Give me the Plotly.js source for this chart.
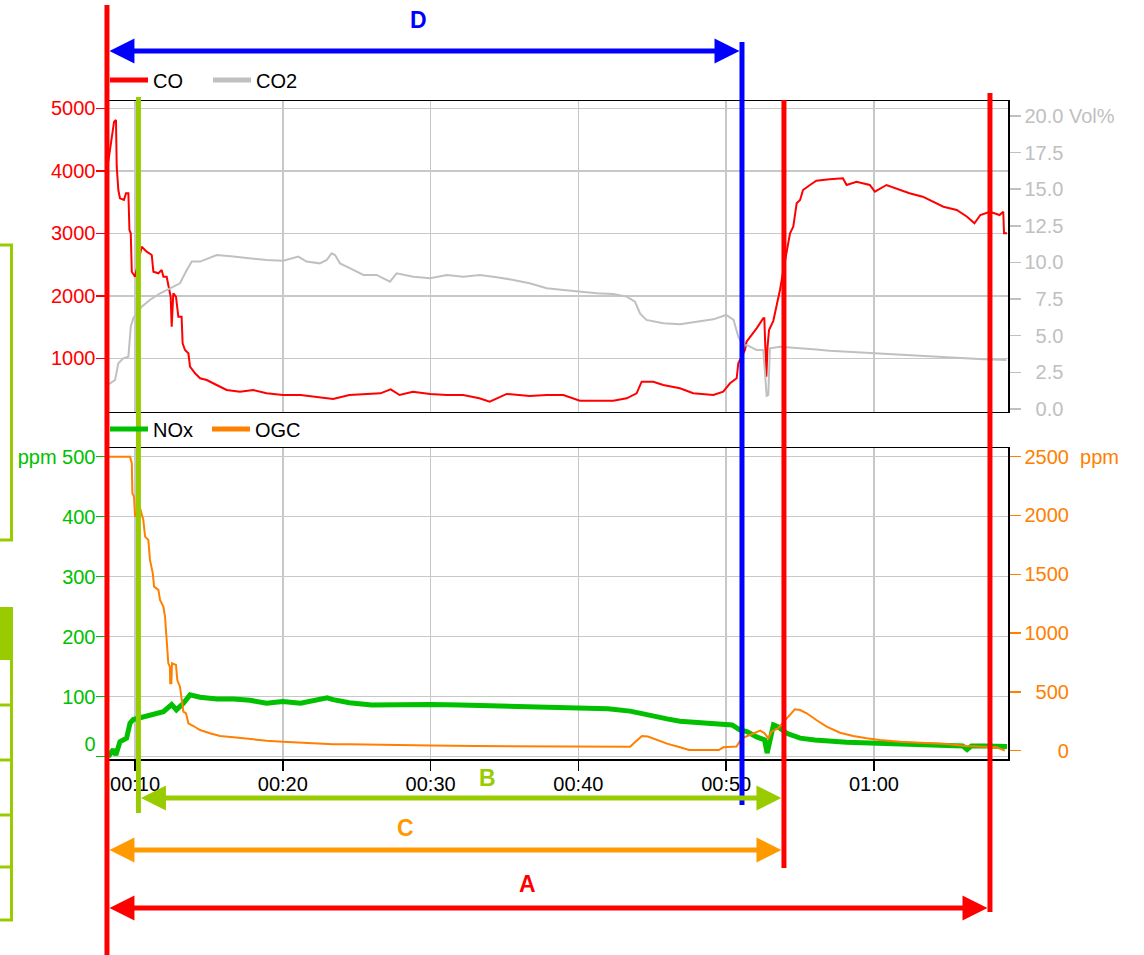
<!DOCTYPE html>
<html>
<head>
<meta charset="utf-8">
<script src="https://cdn.plot.ly/plotly-3.0.1.min.js"></script>
<style>html,body{margin:0;padding:0;background:#fff;}#chart{width:1144px;height:955px;}</style>
</head>
<body>
<div id="chart"></div>
<script>
// ---------- DATA (time in minutes) ----------
const coTime = [8.19,8.42,8.58,8.71,8.76,8.87,8.98,9.25,9.39,9.55,9.62,9.71,9.78,10.0,10.45,10.79,11.13,11.24,11.58,11.80,11.92,12.14,12.25,12.41,12.48,12.59,12.77,12.93,13.15,13.22,13.38,13.61,13.72,14.06,14.40,14.85,15.52,16.20,17.1,18.0,18.9,20.0,21.2,22.3,23.4,24.5,25.7,26.6,27.3,27.9,28.8,29.96,31.1,32.2,33.3,34.0,35.15,36.7,37.86,38.98,40.1,41.24,42.36,43.27,43.94,44.28,45.07,45.74,46.87,47.77,49.13,49.8,50.26,50.71,50.82,51.27,51.38,52.06,52.51,52.58,52.66,52.72,52.8,52.9,53.19,53.41,53.64,53.9,54.13,54.32,54.54,54.77,55.0,55.2,55.67,56.1,57.0,57.9,58.15,58.82,59.72,60.06,60.85,61.5,62.4,63.3,64.0,64.7,65.6,66.3,66.8,67.2,67.85,68.5,68.75,68.8,69.0];
const coValue = [4146,4546,4786,4813,4066,3693,3560,3533,3640,3640,3053,3000,2386,2306,2786,2706,2653,2386,2360,2413,2306,2306,2146,1986,1506,2040,1986,1666,1666,1240,1133,1080,866,760,680,653,573,493,466,493,440,413,413,386,350,413,430,440,504,413,466,430,413,413,360,306,430,397,413,413,322,322,322,360,440,626,626,573,520,440,413,466,600,680,920,1133,1266,1480,1640,1640,1100,706,1186,1453,1600,1826,2093,2450,2786,3000,3106,3480,3533,3693,3773,3842,3864,3880,3773,3826,3773,3666,3773,3720,3640,3586,3506,3426,3373,3266,3160,3293,3346,3293,3346,3000,3000];

const co2Time = [8.2,8.31,8.65,8.87,9.2,9.55,9.71,9.88,10.45,11.0,11.7,12.37,13.04,13.5,13.84,14.4,14.85,15.53,16.65,17.78,18.9,20.03,21.05,21.6,22.5,22.97,23.3,23.53,23.87,24.77,25.45,26.35,27.25,27.7,28.83,29.96,31.1,32.2,33.34,34.47,35.6,36.7,37.86,38.98,40.1,41.24,42.36,43.27,43.83,44.17,44.6,45.74,46.87,48.0,49.13,50.0,50.5,50.82,51.17,51.38,52.06,52.51,52.62,52.74,52.85,52.96,53.64,54.77,55.9,57.0,58.15,59.28,60.4,62.0,63.8,65.6,67.4,68.97];
const co2Value = [1.7,1.75,1.98,3.12,3.46,3.57,5.62,6.19,6.98,7.44,7.9,8.24,8.58,9.49,10.06,10.06,10.22,10.51,10.4,10.29,10.17,10.12,10.4,10.06,9.94,10.17,10.63,10.51,9.94,9.49,9.15,9.15,8.69,9.26,9.03,8.92,9.15,9.03,9.15,8.99,8.81,8.58,8.24,8.12,8.01,7.9,7.85,7.67,7.32,6.53,6.08,5.85,5.78,5.96,6.12,6.42,6.08,4.94,4.3,4.37,4.03,4.03,2.66,0.9,0.96,4.14,4.25,4.14,4.07,3.98,3.91,3.85,3.80,3.69,3.57,3.50,3.39,3.34];

const noxTime = [8.2,8.3,8.53,8.7,8.98,9.43,9.66,9.88,10.56,11.24,11.92,12.48,12.8,13.27,13.72,14.4,15.53,16.65,17.78,18.9,20.0,21.2,23.0,23.4,24.5,26,28,30,32,34,36,38,40,42,43.5,44.5,46,46.87,49.1,50.4,50.9,51.4,52.06,52.6,52.77,52.95,53.2,53.5,54.1,55.0,56.0,58.15,60.4,62.67,64.9,66.0,66.3,66.6,67.5,68.7,69.0];
const noxValue = [0,3,12,3,25,31,56,62,67,70,75,87,78,89,103,99,96,96,94,89,92,89,98,95,90,86,87,87,86,85,85,84,82,80,76,70,63,59,56,53,45,42,33,28,6,28,53,50,39,31,28,24,22,20,18,18,12,18,18,18,17];

const ogcTime = [8.2,9.66,9.78,9.82,9.93,10.0,10.34,10.56,10.68,10.9,11.01,11.2,11.29,11.58,11.69,11.92,12.03,12.14,12.25,12.36,12.38,12.46,12.5,12.77,12.86,13.04,13.16,13.27,13.45,13.61,13.95,14.4,15.07,15.75,16.65,17.78,18.9,20.0,21.2,22.3,23.4,24.5,27,30,33,36,40,43.5,43.9,44.3,44.7,45.2,46.0,46.87,47.5,49.5,49.8,50.7,51.05,51.6,52.3,52.6,52.85,53.07,53.5,54.1,54.65,55.0,55.45,56.1,56.8,57.7,58.6,59.5,60.4,61.76,63.1,64.9,66.26,68.3,68.86];
const ogcValue = [2500,2500,2444,2189,2160,1990,2061,1962,1820,1792,1622,1508,1395,1367,1282,1224,1139,969,743,714,573,573,743,729,601,544,445,332,318,233,210,176,148,125,114,99,85,77,68,63,54,54,48,45,40,38,34,34,80,125,120,95,60,29,6,6,29,36,105,133,170,148,105,162,190,275,352,346,318,261,204,153,125,105,91,77,68,57,40,29,0];

const timeTickVals = [10,20,30,40,50,60];
const timeTickText = ['00:10','00:20','00:30','00:40','00:50','01:00'];
const coTickVals = [1000,2000,3000,4000,5000];
const coTickText = ['1000','2000','3000','4000','5000'];
const co2TickVals = [0,2.5,5,7.5,10,12.5,15,17.5,20];
const co2TickText = ['\u20070.0','\u20072.5','\u20075.0','\u20077.5','10.0','12.5','15.0','17.5','20.0 Vol%'];
const noxTickVals = [0,100,200,300,400,500];
const noxTickText = ['0<br>\u00a0','100','200','300','400','ppm 500'];
const ogcTickVals = [0,500,1000,1500,2000,2500];
const ogcTickText = ['\u2007\u2007\u20070','\u2007500','1000','1500','2000','2500\u00a0\u00a0ppm'];

// phase markers (minutes) and phase arrows
const markerTimes = [8.10, 10.23, 51.07, 53.91, 67.85];
const phaseLabels = ['D','B','C','A'];
const phaseFrom = [0,1,0,0];
const phaseTo   = [2,3,3,4];

// ---------- LAYOUT HELPERS ----------
const X_RANGE = [8.17, 69.07];
const PL=108, PR=1008, PT=101, PB=759;
const pxX = x => (x-PL)/(PR-PL);
const pxY = y => (PB-y)/(PB-PT);
const tX = t => (t-X_RANGE[0])/(X_RANGE[1]-X_RANGE[0]);
const FONT = 'Liberation Sans, Arial, sans-serif';
const GRID = '#c8c8c8';
const RED='#ff0000', GRAY='#c0c0c0', GREEN='#00c000', ORANGE='#ff8000';
const LIME='#99cc00', ORANGE2='#ff9900', BLUE='#0000ff';

const traces = [
  {x:co2Time, y:co2Value, xaxis:'x2', yaxis:'y2', mode:'lines', line:{color:GRAY,width:2}, showlegend:false, hoverinfo:'skip'},
  {x:coTime, y:coValue, xaxis:'x2', yaxis:'y', mode:'lines', line:{color:RED,width:2}, showlegend:false, hoverinfo:'skip'},
  {x:noxTime, y:noxValue, xaxis:'x', yaxis:'y3', mode:'lines', line:{color:GREEN,width:5}, showlegend:false, hoverinfo:'skip'},
  {x:ogcTime, y:ogcValue, xaxis:'x', yaxis:'y4', mode:'lines', line:{color:ORANGE,width:2}, showlegend:false, hoverinfo:'skip'},
  // legend entries
  {x:[null], y:[null], xaxis:'x2', yaxis:'y', mode:'lines', name:'CO', line:{color:RED,width:5}, legend:'legend'},
  {x:[null], y:[null], xaxis:'x2', yaxis:'y', mode:'lines', name:'CO2', line:{color:GRAY,width:5}, legend:'legend'},
  {x:[null], y:[null], xaxis:'x', yaxis:'y3', mode:'lines', name:'NOx', line:{color:GREEN,width:5}, legend:'legend2'},
  {x:[null], y:[null], xaxis:'x', yaxis:'y3', mode:'lines', name:'OGC', line:{color:ORANGE,width:5}, legend:'legend2'}
];

const axisCommon = {showline:true, linecolor:'#000', linewidth:1.5, mirror:true, zeroline:false, ticks:'outside', ticklen:11, tickwidth:1.5};

// shapes
const shapes = [];
const markerStyle = [
  {color:RED, y0:5, y1:955},
  {color:LIME, y0:97, y1:813},
  {color:BLUE, y0:42, y1:805},
  {color:RED, y0:100, y1:868},
  {color:RED, y0:93, y1:912}
];
const arrowStyle = [
  {color:BLUE, y:51, lx:418, ly:20},
  {color:LIME, y:798, lx:487, ly:778},
  {color:ORANGE2, y:850, lx:405, ly:828},
  {color:RED, y:908, lx:527, ly:884}
];
// left-side cut-off boxes
shapes.push({type:'rect', xref:'paper', yref:'paper', x0:pxX(-20), x1:pxX(11.5), y0:pxY(245), y1:pxY(540), line:{color:LIME,width:3}});
shapes.push({type:'rect', xref:'paper', yref:'paper', x0:pxX(-10), x1:pxX(11.5), y0:pxY(607), y1:pxY(660), fillcolor:LIME, line:{width:0}});
shapes.push({type:'line', xref:'paper', yref:'paper', x0:pxX(11.5), x1:pxX(11.5), y0:pxY(607), y1:pxY(920), line:{color:LIME,width:3}});
[705,760,815,867,920].forEach(yy=>shapes.push({type:'line', xref:'paper', yref:'paper', x0:pxX(-5), x1:pxX(13), y0:pxY(yy), y1:pxY(yy), line:{color:LIME,width:3}}));

markerTimes.forEach((t,i)=>{
  const s = markerStyle[i];
  shapes.push({type:'line', xref:'paper', yref:'paper', x0:tX(t), x1:tX(t), y0:pxY(s.y0), y1:pxY(s.y1), line:{color:s.color,width:5}});
});
const annotations = [];
const HL = 25/(PR-PL), HH = 12.5/(PB-PT), HALF = 2.5/(PR-PL);
phaseLabels.forEach((lab,i)=>{
  const s = arrowStyle[i];
  const xa = tX(markerTimes[phaseFrom[i]]) + HALF;
  const xb = tX(markerTimes[phaseTo[i]]) - HALF;
  const yy = pxY(s.y);
  shapes.push({type:'line', xref:'paper', yref:'paper', x0:xa+HL*0.6, x1:xb-HL*0.6, y0:yy, y1:yy, line:{color:s.color,width:5}});
  shapes.push({type:'path', xref:'paper', yref:'paper', path:`M${xa},${yy} L${xa+HL},${yy+HH} L${xa+HL},${yy-HH} Z`, fillcolor:s.color, line:{width:0}});
  shapes.push({type:'path', xref:'paper', yref:'paper', path:`M${xb},${yy} L${xb-HL},${yy+HH} L${xb-HL},${yy-HH} Z`, fillcolor:s.color, line:{width:0}});
  annotations.push({xref:'paper', yref:'paper', x:pxX(s.lx), y:pxY(s.ly), text:'<b>'+lab+'</b>', showarrow:false, font:{family:FONT,size:23,color:s.color}, xanchor:'center', yanchor:'middle'});
});

const layout = {
  width:1144, height:955,
  margin:{l:PL, r:1144-PR, t:PT, b:955-PB, pad:0},
  paper_bgcolor:'#fff', plot_bgcolor:'#fff',
  font:{family:FONT, size:20, color:'#000'},
  xaxis:Object.assign({}, axisCommon, {anchor:'y3', domain:[0,1], range:X_RANGE, tickvals:timeTickVals, ticktext:timeTickText, ticklen:10, tickcolor:'#000', tickfont:{size:20,color:'#000'}, ticklabelstandoff:-4, showgrid:true, gridcolor:GRID, gridwidth:1.5}),
  xaxis2:Object.assign({}, axisCommon, {anchor:'y', domain:[0,1], matches:'x', range:X_RANGE, tickvals:timeTickVals, showticklabels:false, ticks:'', showgrid:true, gridcolor:GRID, gridwidth:1.5}),
  yaxis:Object.assign({}, axisCommon, {anchor:'x2', domain:[pxY(411.5),1], range:[149,5117], tickvals:coTickVals, ticktext:coTickText, tickcolor:RED, tickfont:{size:20,color:RED}, ticklabelstandoff:-4, showgrid:true, gridcolor:GRID, gridwidth:1.5}),
  yaxis2:Object.assign({}, axisCommon, {anchor:'x2', overlaying:'y', side:'right', range:[-0.17,21.02], tickvals:co2TickVals, ticktext:co2TickText, tickcolor:GRAY, tickfont:{size:20,color:GRAY}, showgrid:false}),
  yaxis3:Object.assign({}, axisCommon, {anchor:'x', domain:[0,pxY(448.3)], range:[-3.8,513.8], tickvals:noxTickVals, ticktext:noxTickText, tickcolor:GREEN, tickfont:{size:20,color:GREEN}, ticklabelstandoff:-4, showgrid:true, gridcolor:GRID, gridwidth:1.5}),
  yaxis4:Object.assign({}, axisCommon, {anchor:'x', overlaying:'y3', side:'right', range:[-70.6,2571], tickvals:ogcTickVals, ticktext:ogcTickText, tickcolor:ORANGE, tickfont:{size:20,color:ORANGE}, showgrid:false}),
  legend:{orientation:'h', x:pxX(105), xanchor:'left', y:pxY(80), yanchor:'middle', bgcolor:'rgba(0,0,0,0)', font:{size:20,color:'#000'}, entrywidth:50, entrywidthmode:'pixels', itemwidth:38, traceorder:'normal'},
  legend2:{orientation:'h', x:pxX(105), xanchor:'left', y:pxY(429), yanchor:'middle', bgcolor:'rgba(0,0,0,0)', font:{size:20,color:'#000'}, entrywidth:49, entrywidthmode:'pixels', itemwidth:38, traceorder:'normal'},
  shapes:shapes,
  annotations:annotations,
  showlegend:true
};

Plotly.newPlot('chart', traces, layout, {displayModeBar:false, staticPlot:true});
</script>
</body>
</html>
